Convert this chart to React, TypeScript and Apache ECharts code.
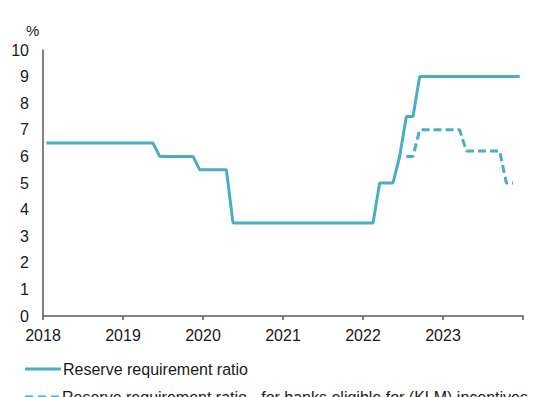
import React, { useEffect, useRef } from "react";
import * as echarts from "echarts";

// Monthly observations, Jan 2018 .. Dec 2023
const startYear = 2018;
const yearTicks = [2018, 2019, 2020, 2021, 2022, 2023, 2024];

const reserveRatio: number[] = [
  // 2018
  6.5, 6.5, 6.5, 6.5, 6.5, 6.5, 6.5, 6.5, 6.5, 6.5, 6.5, 6.5,
  // 2019
  6.5, 6.5, 6.5, 6.5, 6.5, 6.0, 6.0, 6.0, 6.0, 6.0, 6.0, 5.5,
  // 2020
  5.5, 5.5, 5.5, 5.5, 3.5, 3.5, 3.5, 3.5, 3.5, 3.5, 3.5, 3.5,
  // 2021
  3.5, 3.5, 3.5, 3.5, 3.5, 3.5, 3.5, 3.5, 3.5, 3.5, 3.5, 3.5,
  // 2022
  3.5, 3.5, 5.0, 5.0, 5.0, 6.0, 7.5, 7.5, 9.0, 9.0, 9.0, 9.0,
  // 2023
  9.0, 9.0, 9.0, 9.0, 9.0, 9.0, 9.0, 9.0, 9.0, 9.0, 9.0, 9.0,
];

const reserveRatioKlm: (number | null)[] = [
  // 2018
  null, null, null, null, null, null, null, null, null, null, null, null,
  // 2019
  null, null, null, null, null, null, null, null, null, null, null, null,
  // 2020
  null, null, null, null, null, null, null, null, null, null, null, null,
  // 2021
  null, null, null, null, null, null, null, null, null, null, null, null,
  // 2022
  null, null, null, null, null, null, 6.0, 6.0, 7.0, 7.0, 7.0, 7.0,
  // 2023
  7.0, 7.0, 7.0, 6.2, 6.2, 6.2, 6.2, 6.2, 6.2, 5.0, 5.0, null,
];

const seriesNames = [
  "Reserve requirement ratio",
  "Reserve requirement ratio - for banks eligible for (KLM) incentives",
];

const toPoints = (arr: (number | null)[]) =>
  arr
    .map((v, i) => (v === null ? null : [startYear + (i + 0.5) / 12, v]))
    .filter((p) => p !== null);

export default function App() {
  const ref = useRef<HTMLDivElement>(null);
  useEffect(() => {
    if (!ref.current) return;
    const chart = echarts.init(ref.current, null, { renderer: "svg" });
    const font = "'Liberation Sans', Arial, sans-serif";
    const color = "#4bacc6";
    const legendBase = {
      orient: "horizontal",
      left: 25,
      itemWidth: 36,
      itemHeight: 3,
      padding: 0,
      textStyle: { fontSize: 16, color: "#1a1a1a", fontFamily: font, padding: [0, 0, 0, -3] },
    };
    chart.setOption({
      animation: false,
      textStyle: { fontFamily: font },
      grid: { left: 43, right: 15, top: 50, bottom: 81, containLabel: false },
      legend: [
        {
          ...legendBase,
          top: 361,
          icon: "path://M0,0H36V3H0Z",
          data: [seriesNames[0]],
        },
        {
          ...legendBase,
          top: 389,
          icon: "path://M0,0H8V3H0Z M13,0H21V3H13Z M26,0H34V3H26Z",
          data: [seriesNames[1]],
        },
      ],
      graphic: [
        {
          type: "text",
          left: 26,
          top: 23,
          style: { text: "%", fontSize: 15, fill: "#1a1a1a", fontFamily: font },
        },
      ],
      xAxis: {
        type: "value",
        min: yearTicks[0],
        max: yearTicks[yearTicks.length - 1],
        interval: 1,
        splitLine: { show: false },
        axisLine: { show: true, lineStyle: { color: "#595959", width: 1.5 } },
        axisTick: { show: true, length: 4, lineStyle: { color: "#595959", width: 1.5 } },
        axisLabel: {
          fontSize: 16,
          color: "#1a1a1a",
          margin: 11,
          formatter: (v: number) => (v === yearTicks[yearTicks.length - 1] ? "" : String(v)),
        },
      },
      yAxis: {
        type: "value",
        min: 0,
        max: 10,
        interval: 1,
        splitLine: { show: false },
        axisLine: { show: true, lineStyle: { color: "#595959", width: 1.5 } },
        axisTick: { show: false },
        axisLabel: { fontSize: 16, color: "#1a1a1a", margin: 14 },
      },
      series: [
        {
          name: seriesNames[0],
          type: "line",
          data: toPoints(reserveRatio),
          symbol: "none",
          lineStyle: { color, width: 3 },
          itemStyle: { color },
        },
        {
          name: seriesNames[1],
          type: "line",
          data: toPoints(reserveRatioKlm),
          symbol: "none",
          lineStyle: { color, width: 3, type: [8, 4] },
          itemStyle: { color },
        },
      ],
    });
    return () => chart.dispose();
  }, []);
  return (
    <div
      ref={ref}
      style={{ position: "fixed", left: 0, top: 0, width: 538, height: 397, background: "#fff" }}
    />
  );
}
